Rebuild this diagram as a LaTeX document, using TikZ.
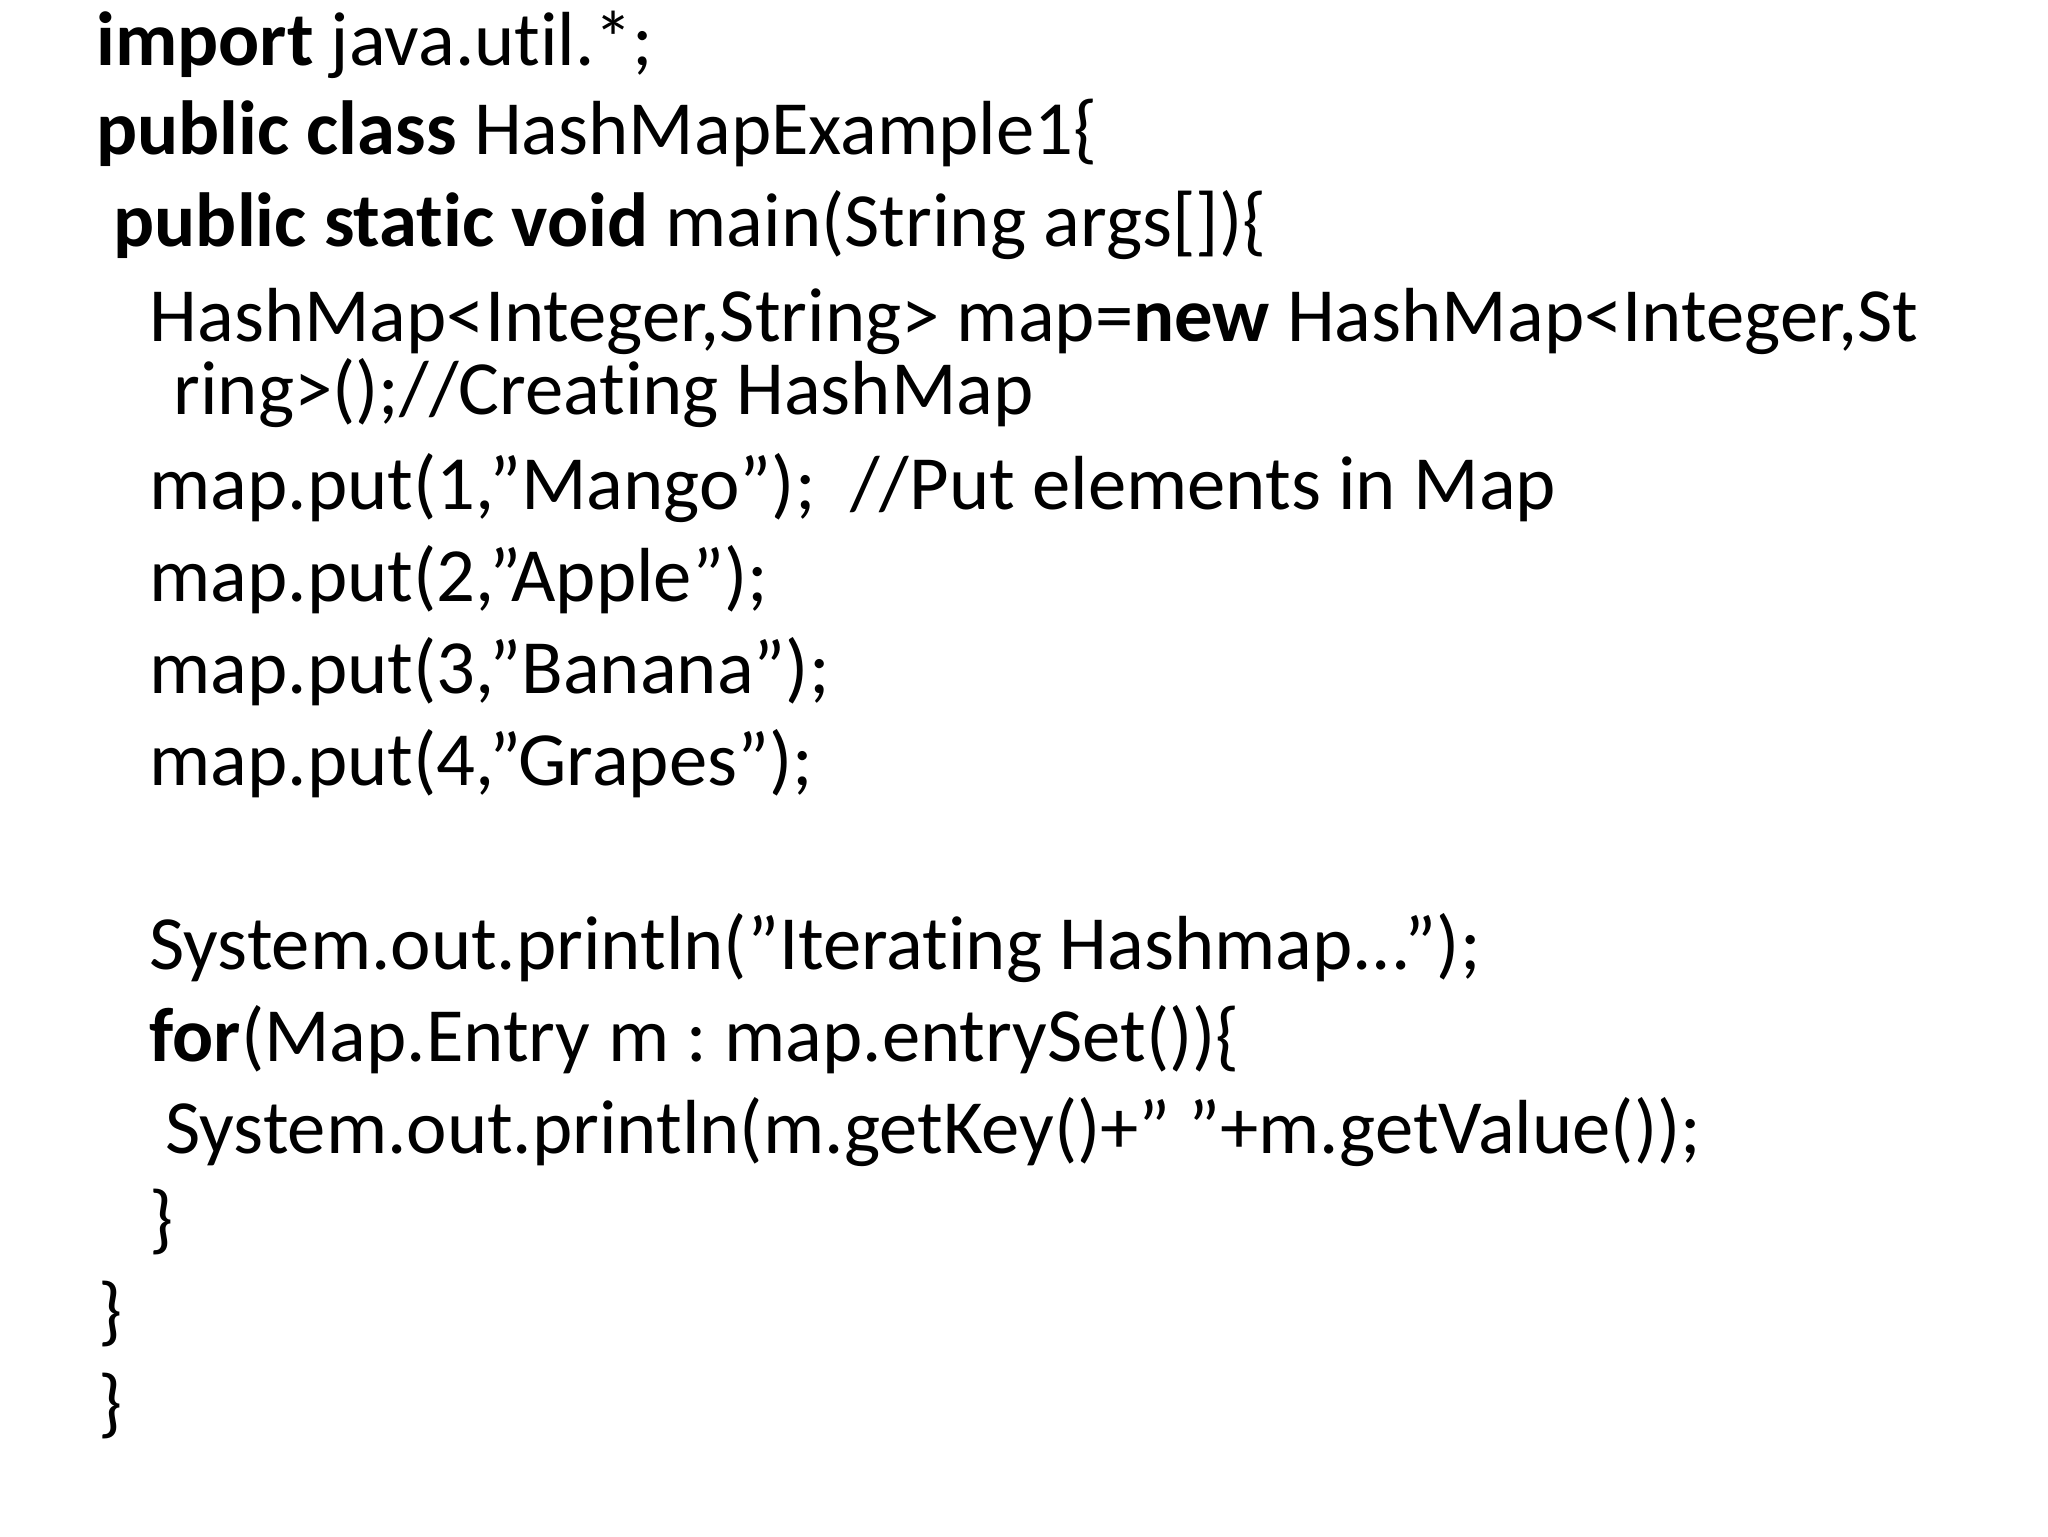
\documentclass[tikz,border=0pt]{standalone}
\usepackage{fontspec}
\defaultfontfeatures{}
\setmainfont{Carlito}[Ligatures={NoCommon}]
\frenchspacing
\begin{document}
\begin{tikzpicture}[x=1pt,y=1pt,every node/.style={anchor=base west,inner sep=0pt,font=\fontsize{57.5}{62}\selectfont}]
\useasboundingbox (0,0) rectangle (1536,1152);
\fill[white] (0,0) rectangle (1536,1152);
\node (l1) at (72,1103) {\textbf{import} java.util.*;};
\node (l2) at (72,1036) {\textbf{public class} HashMapExample1\{};
\node (l3) at (85,967) {\textbf{public static void} main(String args[])\{};
\node (l4) at (112,896) {HashMap<Integer,String> map=\textbf{new} HashMap<Integer,St};
\node (l5) at (130,841) {ring>();//Creating HashMap};
\node (l6) at (112,770) {map.put(1,"Mango");\ \ //Put elements in Map};
\node (l7) at (112,701) {map.put(2,"Apple");};
\node (l8) at (112,632) {map.put(3,"Banana");};
\node (l9) at (112,563) {map.put(4,"Grapes");};
\node (l10) at (112,425) {System.out.println("Iterating Hashmap...");};
\node (l11) at (112,356) {\textbf{for}(Map.Entry m : map.entrySet())\{};
\node (l12) at (124,287) {System.out.println(m.getKey()+" "+m.getValue());};
\node (l13) at (112,219) {\}};
\node (l14) at (74,150) {\}};
\node (l15) at (74,81) {\}};
\end{tikzpicture}
\end{document}
